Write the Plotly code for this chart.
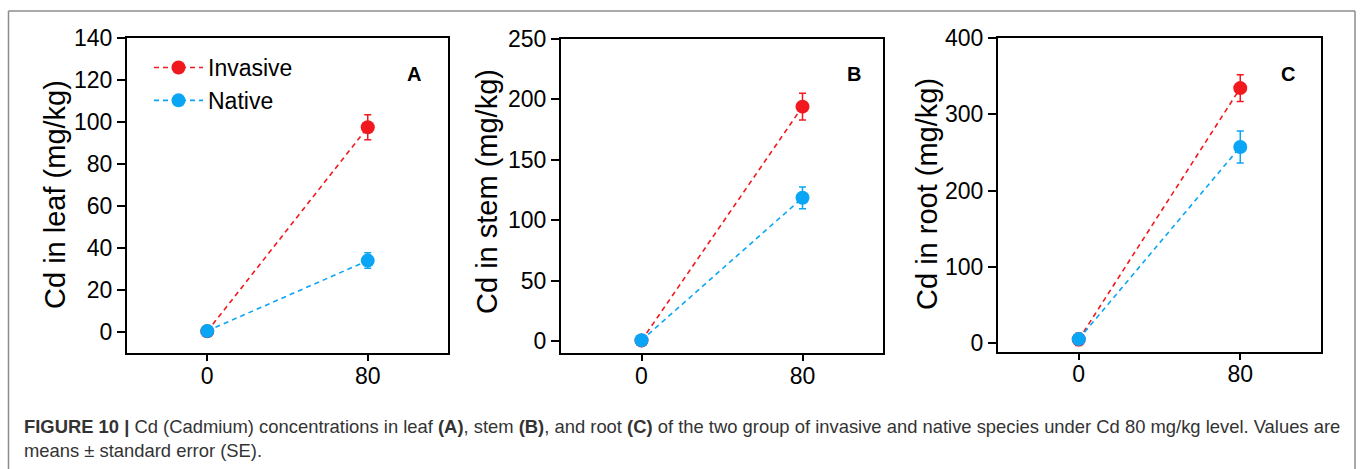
import plotly.graph_objects as go

W, H = 1360, 469

# ---- data ----
cd_levels = [0, 80]
groups = ["Invasive", "Native"]
panels = ["A", "B", "C"]
y_titles = ["Cd in leaf (mg/kg)", "Cd in stem (mg/kg)", "Cd in root (mg/kg)"]

leaf_invasive = [0.3, 97.5]
leaf_invasive_se = [0.3, 6.0]
leaf_native = [0.5, 34.0]
leaf_native_se = [0.3, 3.7]

stem_invasive = [0.3, 194.0]
stem_invasive_se = [0.3, 11.0]
stem_native = [0.5, 118.5]
stem_native_se = [0.3, 9.0]

root_invasive = [5.0, 334.0]
root_invasive_se = [8.0, 17.5]
root_native = [5.5, 257.0]
root_native_se = [2.0, 21.0]

y_ranges = [[-10, 140], [-10, 250], [-11, 400]]
y_dticks = [20, 50, 100]

caption_1 = ("<b>FIGURE 10 |</b> Cd (Cadmium) concentrations in leaf <b>(A)</b>, stem <b>(B)</b>, "
             "and root <b>(C)</b> of the two group of invasive and native species under Cd 80 mg/kg level. "
             "Values are")
caption_2 = "means ± standard error (SE)."

# ---- styling ----
RED = "#F2191E"
BLUE = "#0AA5F5"
FONT = "Liberation Sans, Arial, sans-serif"

# panel geometry in pixels (left, right, top, bottom)
boxes = [(127, 448, 38, 353), (561, 883, 39, 353), (998, 1321, 37.7, 351.7)]
title_pos = [(55, 195), (487, 192), (927, 194)]
label_pos = [(0.894, 0.886), (0.91, 0.889), (0.898, 0.884)]

series = [
    (leaf_invasive, leaf_invasive_se, leaf_native, leaf_native_se),
    (stem_invasive, stem_invasive_se, stem_native, stem_native_se),
    (root_invasive, root_invasive_se, root_native, root_native_se),
]

fig = go.Figure()

for i, (inv, inv_se, nat, nat_se) in enumerate(series):
    ax = "" if i == 0 else str(i + 1)
    for name, vals, se, col in [(groups[0], inv, inv_se, RED), (groups[1], nat, nat_se, BLUE)]:
        fig.add_trace(go.Scatter(
            x=cd_levels, y=vals, name=name, mode="lines+markers",
            xaxis="x" + ax, yaxis="y" + ax,
            showlegend=(i == 0),
            line=dict(color=col, width=1.6, dash="5px,4px"),
            marker=dict(color=col, size=14, line=dict(width=0)),
            error_y=dict(type="data", array=se, visible=True, color=col,
                         thickness=1.5, width=3.5),
        ))

layout = dict(
    width=W, height=H, margin=dict(l=0, r=0, t=0, b=0, autoexpand=False),
    paper_bgcolor="white", plot_bgcolor="white",
    font=dict(family=FONT, color="black"),
    showlegend=True,
    legend=dict(x=149 / W, y=1 - 46 / H, xanchor="left", yanchor="top",
                font=dict(size=23, family=FONT, color="black"),
                bgcolor="rgba(0,0,0,0)", itemwidth=49, tracegroupgap=0),
)

annotations = []
for i, (l, r, t, b) in enumerate(boxes):
    ax = "" if i == 0 else str(i + 1)
    layout["xaxis" + ax] = dict(
        domain=[l / W, r / W], anchor="y" + ax, range=[-40, 120],
        tickvals=cd_levels, ticktext=[str(v) for v in cd_levels],
        ticks="outside", ticklen=6, tickwidth=2, tickcolor="black",
        showline=True, linewidth=2, linecolor="black", mirror=True,
        showgrid=False, zeroline=False, tickfont=dict(size=23, family=FONT, color="black"),
        fixedrange=True, automargin=False, ticklabelstandoff=-5,
    )
    layout["yaxis" + ax] = dict(
        domain=[1 - b / H, 1 - t / H], anchor="x" + ax, range=y_ranges[i],
        tick0=0, dtick=y_dticks[i],
        ticks="outside", ticklen=8, tickwidth=2, tickcolor="black",
        showline=True, linewidth=2, linecolor="black", mirror=True,
        showgrid=False, zeroline=False, tickfont=dict(size=23, family=FONT, color="black"),
        fixedrange=True, automargin=False,
    )
    tx, ty = title_pos[i]
    annotations.append(dict(
        text=y_titles[i], xref="paper", yref="paper", x=tx / W, y=1 - ty / H,
        textangle=-90, showarrow=False, font=dict(size=29, family=FONT, color="black"),
        xanchor="center", yanchor="middle",
    ))
    lx, ly = label_pos[i]
    annotations.append(dict(
        text="<b>" + panels[i] + "</b>", xref="x" + ax + " domain", yref="y" + ax + " domain",
        x=lx, y=ly, showarrow=False, font=dict(size=20, family=FONT, color="black"),
        xanchor="center", yanchor="middle",
    ))

annotations.append(dict(
    text=caption_1, xref="paper", yref="paper", x=22 / W, y=1 - 426 / H,
    xanchor="left", yanchor="middle", showarrow=False, align="left",
    font=dict(size=18.4, family=FONT, color="#333333"),
))
annotations.append(dict(
    text=caption_2, xref="paper", yref="paper", x=22 / W, y=1 - 450 / H,
    xanchor="left", yanchor="middle", showarrow=False, align="left",
    font=dict(size=18.4, family=FONT, color="#333333"),
))
layout["annotations"] = annotations

# outer frame (open at the bottom)
frame = dict(color="#8C8C8C", width=1.5)
layout["shapes"] = [
    dict(type="line", xref="paper", yref="paper", x0=8.5 / W, x1=8.5 / W, y0=0, y1=1 - 11 / H, line=frame),
    dict(type="line", xref="paper", yref="paper", x0=8.5 / W, x1=1355 / W, y0=1 - 11 / H, y1=1 - 11 / H, line=frame),
    dict(type="line", xref="paper", yref="paper", x0=1355 / W, x1=1355 / W, y0=0, y1=1 - 11 / H, line=frame),
]

fig.update_layout(**layout)
fig.write_html("out.html")
